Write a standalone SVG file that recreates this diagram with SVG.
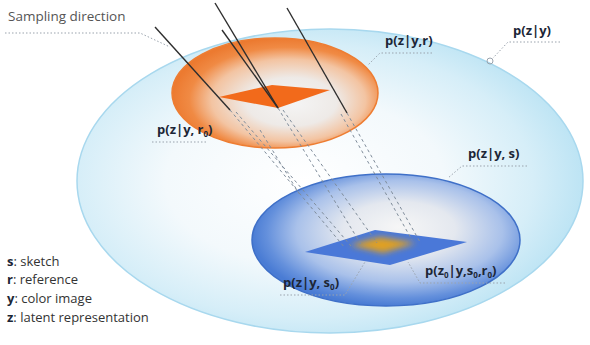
<svg xmlns="http://www.w3.org/2000/svg" width="590" height="345" viewBox="0 0 590 345">
<defs>
<radialGradient id="bigG" cx="0.45" cy="0.5" r="0.55">
<stop offset="0" stop-color="#ffffff"/>
<stop offset="0.5" stop-color="#f3f9fc"/>
<stop offset="0.82" stop-color="#d6eef8"/>
<stop offset="1" stop-color="#bde4f4"/>
</radialGradient>
<radialGradient id="orG" cx="0.55" cy="0.55" r="0.55" fx="0.6" fy="0.6">
<stop offset="0" stop-color="#f4f4f4"/>
<stop offset="0.4" stop-color="#eeeae7"/>
<stop offset="0.68" stop-color="#f3c4a2"/>
<stop offset="0.86" stop-color="#f08a44"/>
<stop offset="1" stop-color="#ec7a30"/>
</radialGradient>
<radialGradient id="blG" cx="0.55" cy="0.45" r="0.55" fx="0.55" fy="0.4">
<stop offset="0" stop-color="#f6f6f6"/>
<stop offset="0.38" stop-color="#e4e8ef"/>
<stop offset="0.7" stop-color="#a9c1ea"/>
<stop offset="0.9" stop-color="#6490dc"/>
<stop offset="1" stop-color="#4a7cd4"/>
</radialGradient>
<filter id="blur" x="-20%" y="-50%" width="140%" height="200%">
<feGaussianBlur stdDeviation="3"/>
</filter>
<style>
.lbl{font-family:"Open Sans","Noto Sans",sans-serif;font-weight:bold;font-size:13px;fill:#1c2636}
.sub{font-size:8px}
.leg{font-family:"Open Sans","Noto Sans",sans-serif;font-size:13px;fill:#333}
.legb{font-weight:bold;fill:#1c2636}
.dot{fill:none;stroke:#9aa3ad;stroke-width:1;stroke-dasharray:1.5 2}
.solid{stroke:#2e2e2e;stroke-width:1.4;fill:none}
.dash{stroke:#7f8c9a;stroke-width:1;stroke-dasharray:3 3;fill:none}
</style>
</defs>
<rect width="590" height="345" fill="#ffffff"/>

<g id="space">
<ellipse cx="330" cy="181" rx="253" ry="152" fill="url(#bigG)" stroke="#a8d8ee" stroke-width="1.5"/>
</g>

<g id="orange-region">
<ellipse cx="275" cy="93" rx="103" ry="55" fill="url(#orG)" stroke="#ee7d32" stroke-width="1.5"/>
<polygon points="219,97 272,85 330,90 278,108" fill="#f26a1b"/>
</g>

<g id="blue-region">
<ellipse cx="386" cy="240" rx="134" ry="66" fill="url(#blG)" stroke="#3f70c8" stroke-width="1.5"/>
<polygon points="305,252 375,230 467,242 390,265" fill="#4a78d8"/>
<polygon points="350,245 380,237 416,243 383,253" fill="#e0a020" filter="url(#blur)"/>
</g>

<g id="connectors">
<line class="solid" x1="155" y1="27" x2="230" y2="110"/>
<line class="solid" x1="215" y1="3" x2="278" y2="108"/>
<line class="solid" x1="222" y1="30" x2="278" y2="108"/>
<line class="solid" x1="287" y1="8" x2="347" y2="113"/>
<line class="dash" x1="230" y1="110" x2="345" y2="248"/>
<line class="dash" x1="236" y1="112" x2="351" y2="246"/>
<line class="dash" x1="278" y1="108" x2="362" y2="246"/>
<line class="dash" x1="283" y1="110" x2="377" y2="243"/>
<line class="dash" x1="347" y1="113" x2="420" y2="242"/>
<line class="dash" x1="341" y1="114" x2="412" y2="240"/>
<line class="dash" x1="260" y1="130" x2="300" y2="195"/>
</g>

<g id="label-sampling">
<text x="8" y="21" style="font-family:'Open Sans','Noto Sans',sans-serif;font-size:13.5px;fill:#555">Sampling direction</text>
<polyline class="dot" points="5,33 140,33 170,47"/>
</g>

<g id="label-pzyr">
<text class="lbl" x="385" y="45">p(z|y,r)</text>
<polyline class="dot" points="432,53 380,53 368,65"/>
</g>

<g id="label-pzy">
<text class="lbl" x="513" y="35">p(z|y)</text>
<polyline class="dot" points="560,42 508,42 493,58"/>
<circle cx="490" cy="61" r="3" fill="none" stroke="#9aa3ad" stroke-width="1"/>
</g>

<g id="label-pzyr0">
<text class="lbl" x="157" y="134">p(z|y, r<tspan class="sub" dy="3">0</tspan><tspan dy="-3">)</tspan></text>
<polyline class="dot" points="152,142 207,142"/>
</g>

<g id="label-pzys">
<text class="lbl" x="468" y="158">p(z|y, s)</text>
<polyline class="dot" points="527,166 462,166 448,178"/>
</g>

<g id="label-pzys0">
<text class="lbl" x="283" y="287">p(z|y, s<tspan class="sub" dy="3">0</tspan><tspan dy="-3">)</tspan></text>
<polyline class="dot" points="280,295 345,295 365,262"/>
</g>

<g id="label-pz0">
<text class="lbl" x="425" y="275">p(z<tspan class="sub" dy="3">0</tspan><tspan dy="-3">|y,s</tspan><tspan class="sub" dy="3">0</tspan><tspan dy="-3">,r</tspan><tspan class="sub" dy="3">0</tspan><tspan dy="-3">)</tspan></text>
<polyline class="dot" points="505,283 420,283 408,262"/>
</g>

<g id="legend">
<text class="leg" x="7" y="266"><tspan class="legb">s</tspan>: sketch</text>
<text class="leg" x="7" y="284"><tspan class="legb">r</tspan>: reference</text>
<text class="leg" x="7" y="303"><tspan class="legb">y</tspan>: color image</text>
<text class="leg" x="7" y="322"><tspan class="legb">z</tspan>: latent representation</text>
</g>
</svg>
